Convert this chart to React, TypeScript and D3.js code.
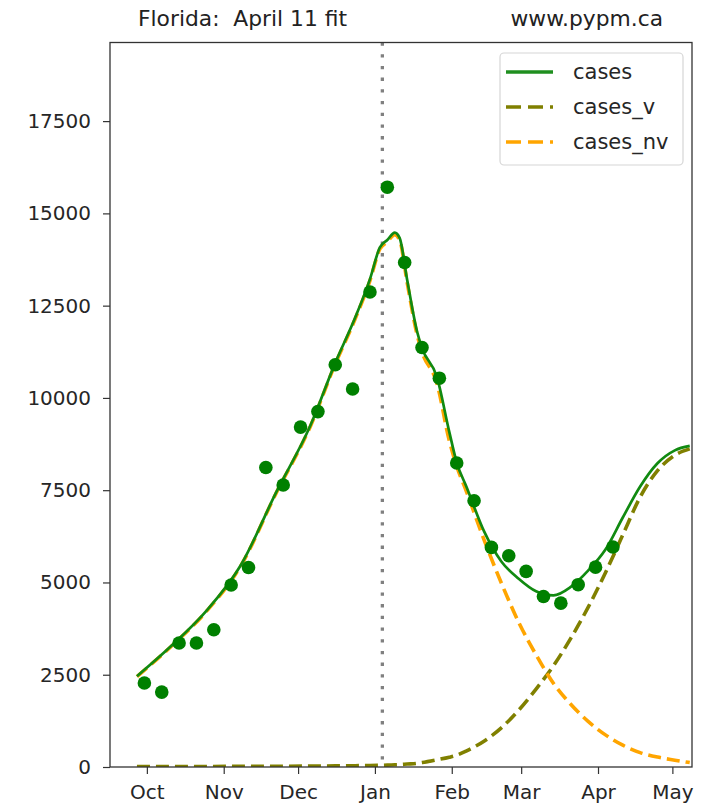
import React, { useRef, useEffect } from 'react';
import * as d3 from 'd3';

// weekly observed cases (dots)
const obsDates = [
  '2020-09-30', '2020-10-07', '2020-10-14', '2020-10-21', '2020-10-28', '2020-11-04', '2020-11-11',
  '2020-11-18', '2020-11-25', '2020-12-02', '2020-12-09', '2020-12-16', '2020-12-23', '2020-12-30',
  '2021-01-06', '2021-01-13', '2021-01-20', '2021-01-27', '2021-02-03', '2021-02-10', '2021-02-17',
  '2021-02-24', '2021-03-03', '2021-03-10', '2021-03-17', '2021-03-24', '2021-03-31', '2021-04-07',
];
const obsCases = [
  2275, 2030, 3360, 3360, 3720, 4930, 5405,
  8115, 7640, 9210, 9630, 10900, 10240, 12870,
  15710, 13670, 11365, 10535, 8235, 7215, 5950,
  5725, 5300, 4620, 4440, 4940, 5415, 5960,
];

// model curves
const fitDates = [
  '2020-09-27', '2020-10-11', '2020-10-25', '2020-11-08', '2020-11-22', '2020-12-06', '2020-12-16',
  '2020-12-24', '2020-12-30', '2021-01-03', '2021-01-06', '2021-01-09', '2021-01-11', '2021-01-14',
  '2021-01-18', '2021-01-20', '2021-01-26', '2021-01-31', '2021-02-03', '2021-02-07', '2021-02-14',
  '2021-02-21', '2021-02-28', '2021-03-07', '2021-03-14', '2021-03-21', '2021-03-28', '2021-04-04',
  '2021-04-11', '2021-04-18', '2021-04-25', '2021-05-02', '2021-05-08',
];
const cases = [
  2460, 3290, 4230, 5480, 7420, 9260, 10950,
  12170, 13220, 14080, 14280, 14480, 14330, 13200,
  11800, 11350, 10570, 9080, 8250, 7580, 6390,
  5570, 5100, 4760, 4650, 4880, 5320, 5890,
  6760, 7600, 8230, 8580, 8700,
];
const casesV = [
  10, 12, 14, 17, 20, 25, 30,
  35, 40, 45, 50, 60, 65, 80,
  100, 120, 195, 265, 320, 440, 700,
  1060, 1540, 2110, 2740, 3485, 4325, 5265,
  6290, 7313, 8030, 8450, 8620,
];
const casesNv = [
  2450, 3278, 4216, 5463, 7400, 9235, 10920,
  12135, 13180, 14035, 14230, 14420, 14270, 13130,
  11720, 11250, 10400, 8840, 8150, 7450, 6160,
  4985, 3920, 3040, 2270, 1700, 1235, 870,
  590, 390, 268, 185, 120,
];

const yTicks = [0, 2500, 5000, 7500, 10000, 12500, 15000, 17500];
const markerDate = '2021-01-04';

const legendItems = [
  { name: 'cases', color: '#1f8f1f', dash: null },
  { name: 'cases_v', color: '#808000', dash: '15 7' },
  { name: 'cases_nv', color: '#ffa500', dash: '15 7' },
];

const width = 710;
const height = 807;
const left = 110, right = 692, top = 42.5, bottom = 767;
const font = '"DejaVu Sans", sans-serif';

const parse = d3.timeParse('%Y-%m-%d');

export default function App() {
  const xAxisRef = useRef<SVGGElement>(null);
  const yAxisRef = useRef<SVGGElement>(null);

  const x = d3.scaleTime()
    .domain([new Date(2020, 8, 16, 3), new Date(2021, 4, 8, 22)])
    .range([left, right]);
  const y = d3.scaleLinear().domain([0, 19630]).range([bottom, top]);

  const fd = fitDates.map(d => parse(d) as Date);
  const line = d3.line<[Date, number]>()
    .x(d => x(d[0]))
    .y(d => y(d[1]))
    .curve(d3.curveMonotoneX);

  const pathCases = line(fd.map((d, i) => [d, cases[i]]));
  const pathV = line(fd.map((d, i) => [d, casesV[i]]));
  const pathNv = line(fd.map((d, i) => [d, casesNv[i]]));
  const mx = x(parse(markerDate) as Date);

  useEffect(() => {
    const months = d3.timeMonth.range(new Date(2020, 9, 1), new Date(2021, 4, 2));
    const xa = d3.axisBottom(x).tickValues(months).tickFormat(d3.timeFormat('%b') as any)
      .tickSize(7).tickPadding(11).tickSizeOuter(0);
    const ya = d3.axisLeft(y).tickValues(yTicks).tickFormat(d3.format('d'))
      .tickSize(7).tickPadding(12).tickSizeOuter(0);
    const gx = d3.select(xAxisRef.current!).call(xa);
    const gy = d3.select(yAxisRef.current!).call(ya);
    [gx, gy].forEach(g => {
      g.select('.domain').remove();
      g.selectAll('.tick line').attr('stroke', '#333').attr('stroke-width', 1.2);
      g.selectAll('.tick text').attr('fill', '#262626')
        .style('font-family', font).style('font-size', '20px');
    });
  }, []);

  return (
    <svg width={width} height={height} style={{ position: 'absolute', left: 0, top: 0, background: '#fff' }}>
      <defs>
        <clipPath id="plot">
          <rect x={left} y={top} width={right - left} height={bottom - top} />
        </clipPath>
      </defs>
      <rect width={width} height={height} fill="#fff" />

      <text x={138} y={26} fontFamily={font} fontSize={21.8} fill="#222" style={{ whiteSpace: 'pre' }}>Florida:  April 11 fit</text>
      <text x={663} y={26} fontFamily={font} fontSize={21.8} fill="#222" textAnchor="end">www.pypm.ca</text>

      <g clipPath="url(#plot)">
        <line x1={mx} x2={mx} y1={top} y2={bottom} stroke="#808080" strokeWidth={3.3} strokeDasharray="3.3 8.4" />
        <path d={pathV ?? ''} fill="none" stroke="#808000" strokeWidth={3.6} strokeDasharray="13 6" />
        <path d={pathNv ?? ''} fill="none" stroke="#ffa500" strokeWidth={3.6} strokeDasharray="13 6" />
        <path d={pathCases ?? ''} fill="none" stroke="#118a11" strokeWidth={2.7} />
        {obsDates.map((d, i) => (
          <circle key={d} cx={x(parse(d) as Date)} cy={y(obsCases[i])} r={6.8} fill="#008000" />
        ))}
      </g>

      <g ref={xAxisRef} transform={`translate(0,${bottom})`} />
      <g ref={yAxisRef} transform={`translate(${left},0)`} />

      <rect x={left} y={top} width={right - left} height={bottom - top} fill="none" stroke="#333" strokeWidth={1.3} />

      <g>
        <rect x={500} y={53} width={183} height={112} rx={4} fill="#fff" fillOpacity={0.8} stroke="#d6d6d6" strokeWidth={1.2} />
        {legendItems.map((it, i) => (
          <g key={it.name} transform={`translate(0,${72 + i * 35})`}>
            <line x1={506} x2={553} y1={0} y2={0} stroke={it.color} strokeWidth={3.6}
              strokeDasharray={it.dash ?? undefined} />
            <text x={573} y={0} dy="0.35em" fontFamily={font} fontSize={21} fill="#262626">{it.name}</text>
          </g>
        ))}
      </g>
    </svg>
  );
}
